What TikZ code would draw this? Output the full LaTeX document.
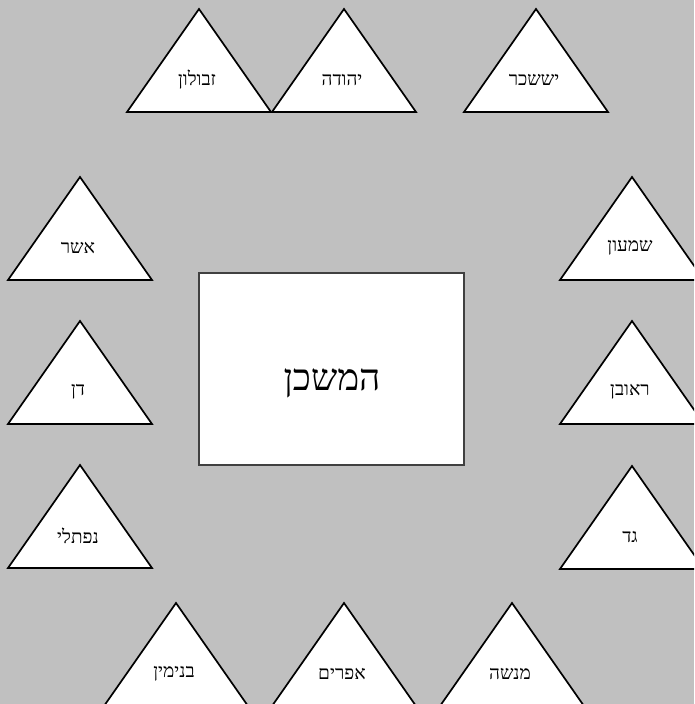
\documentclass[tikz,border=0pt]{standalone}
\usepackage{fontspec}
\newfontfamily\hebfont[Script=Hebrew]{Liberation Serif}
\TeXXeTstate=1
\definecolor{bggray}{HTML}{C0C0C0}
\definecolor{boxedge}{HTML}{404040}
\newcommand\tribe[4]{%
  \draw[tri] (#1,#2) -- ++(72,103) -- ++(-144,0) -- cycle;
  \node[lbl] (#3) at (#1-2,#2+71) {\beginR #4\endR};}
\begin{document}
\begin{tikzpicture}[x=1pt,y=-1pt,
  tri/.style={fill=white,draw=black,line width=1.7pt,line join=miter},
  lbl/.style={font=\hebfont\fontsize{19}{19}\selectfont,inner sep=0pt,anchor=center},
  mishkan/.style={fill=white,draw=boxedge,line width=1.6pt},
  bigl/.style={font=\hebfont\fontsize{37}{37}\selectfont,inner sep=0pt}]
\useasboundingbox (0,0) rectangle (694,704);
\fill[bggray] (0,0) rectangle (694,704);
\clip (0,0) rectangle (694,704);
% top row
\tribe{199}{9}{zevulun}{זבולון}
\tribe{344}{9}{yehuda}{יהודה}
\tribe{536}{9}{yissachar}{יששכר}
% left column
\tribe{80}{177}{asher}{אשר}
\tribe{80}{321}{dan}{דן}
\tribe{80}{465}{naftali}{נפתלי}
% right column
\tribe{632}{177}{shimon}{שמעון}
\tribe{632}{321}{reuven}{ראובן}
\tribe{632}{466}{gad}{גד}
% bottom row
\tribe{176}{603}{binyamin}{בנימין}
\tribe{344}{603}{efraim}{אפרים}
\tribe{512}{603}{menashe}{מנשה}
% center
\draw[mishkan] (199,273) rectangle (464,465);
\node[bigl] (mishkan) at (332,383) {\beginR המשכן\endR};
\end{tikzpicture}
\end{document}
